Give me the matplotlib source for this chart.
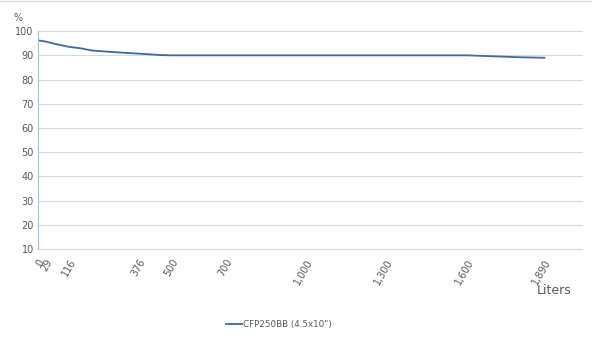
import matplotlib.pyplot as plt
from matplotlib.lines import Line2D

# readings
liters = [0, 29, 60, 116, 160, 200, 250, 300, 376, 420, 460, 500, 700, 1000,
          1300, 1600, 1650, 1700, 1750, 1800, 1890]
percent = [96.2, 95.7, 94.8, 93.5, 92.9, 92.0, 91.6, 91.2, 90.7, 90.4, 90.1,
           90.0, 90.0, 90.0, 90.0, 90.0, 89.8, 89.6, 89.4, 89.2, 89.0]
xticks = [0, 29, 116, 376, 500, 700, 1000, 1300, 1600, 1890]
series_name = 'CFP250BB (4.5x10")'

text_col = '#595959'
fig = plt.figure(figsize=(5.92, 3.42), dpi=100)
ax = fig.add_axes([0.064, 0.272, 0.919, 0.637])

ax.plot(liters, percent, color='#3b6b9b', lw=1.3, label=series_name)

ax.set_xlim(0, 2030)
ax.set_ylim(10, 100)
ax.set_yticks(range(10, 101, 10))
ax.set_xticks(xticks)
ax.set_xticklabels([f'{v:,}' for v in xticks], rotation=60, ha='right',
                   va='top', rotation_mode='anchor')
ax.tick_params(axis='both', length=0, labelsize=7, colors=text_col, pad=3)
ax.tick_params(axis='x', pad=6)
ax.grid(axis='y', color='#d9d9d9', lw=0.8)
for g in ax.get_ygridlines():
    g.set_clip_on(False)
ax.set_axisbelow(True)
for s in ['top', 'right', 'bottom']:
    ax.spines[s].set_visible(False)
ax.spines['left'].set_color('#9dc3e6')
ax.spines['left'].set_zorder(3)

fig.text(0.022, 0.94, '%', fontsize=7, color=text_col)
fig.text(0.966, 0.14, 'Liters', fontsize=9, color=text_col, ha='right')
fig.add_artist(Line2D([0, 1], [0.996, 0.996], color='#d9d9d9', lw=1))

leg = fig.legend(loc='center', bbox_to_anchor=(0.471, 0.05), frameon=False,
                 fontsize=6.3, handlelength=1.85, handletextpad=0.1)
for t in leg.get_texts():
    t.set_color(text_col)

fig.savefig('out.png', dpi=100)
